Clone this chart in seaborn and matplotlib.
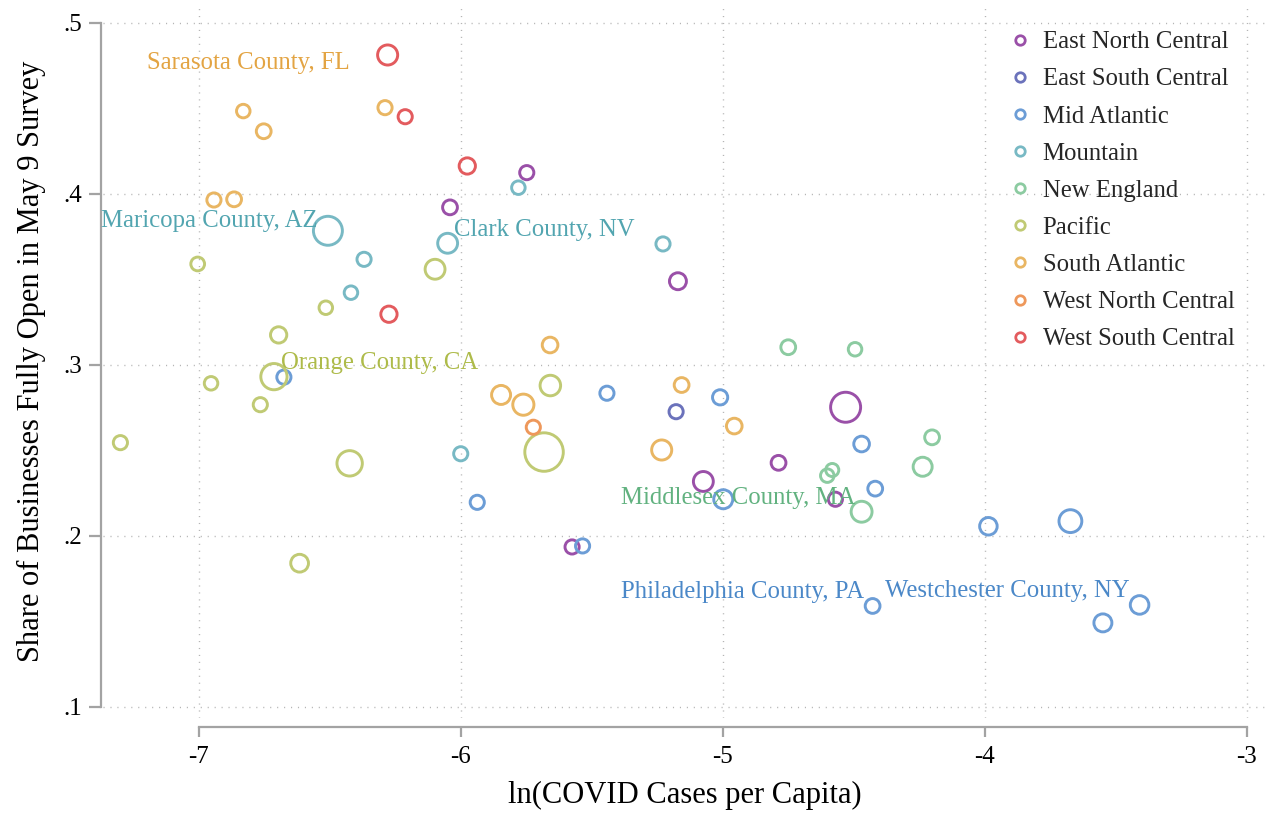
import matplotlib
matplotlib.use("Agg")
import matplotlib.pyplot as plt
from matplotlib.lines import Line2D
import pandas as pd
import seaborn as sns

# ---- data -------------------------------------------------------------
regions = [
    "East North Central", "East South Central", "Mid Atlantic", "Mountain",
    "New England", "Pacific", "South Atlantic", "West North Central",
    "West South Central",
]

region = (
    ["East North Central"] * 8
    + ["East South Central"] * 1
    + ["Mid Atlantic"] * 13
    + ["Mountain"] * 7
    + ["New England"] * 7
    + ["Pacific"] * 12
    + ["South Atlantic"] * 11
    + ["West North Central"] * 1
    + ["West South Central"] * 4
)

ln_cases = [
    # East North Central
    -5.749, -6.042, -5.172, -4.532, -4.788, -5.075, -4.571, -5.576,
    # East South Central
    -5.179,
    # Mid Atlantic
    -6.676, -5.443, -5.011, -5.938, -4.471, -4.419, -4.999, -5.536,
    -3.987, -3.674, -4.429, -3.410, -3.550,
    # Mountain
    -5.781, -6.508, -6.051, -6.370, -5.229, -6.420, -6.001,
    # New England
    -4.751, -4.496, -4.202, -4.238, -4.583, -4.602, -4.471,
    # Pacific
    -7.005, -6.099, -6.516, -6.696, -6.714, -6.954, -6.766, -7.300,
    -6.425, -5.659, -5.683, -6.616,
    # South Atlantic
    -6.831, -6.753, -6.290, -6.943, -6.866, -5.660, -5.847, -5.762,
    -5.158, -4.957, -5.234,
    # West North Central
    -5.724,
    # West South Central
    -6.280, -6.213, -5.976, -6.275,
]

share_open = [
    # East North Central
    0.4122, 0.3919, 0.3487, 0.2750, 0.2425, 0.2316, 0.2212, 0.1933,
    # East South Central
    0.2724,
    # Mid Atlantic
    0.2926, 0.2832, 0.2808, 0.2194, 0.2535, 0.2274, 0.2212, 0.1939,
    0.2054, 0.2084, 0.1588, 0.1594, 0.1489,
    # Mountain
    0.4034, 0.3782, 0.3709, 0.3615, 0.3705, 0.3420, 0.2478,
    # New England
    0.3101, 0.3089, 0.2574, 0.2402, 0.2383, 0.2350, 0.2139,
    # Pacific
    0.3588, 0.3557, 0.3332, 0.3173, 0.2929, 0.2890, 0.2765, 0.2543,
    0.2422, 0.2877, 0.2488, 0.1838,
    # South Atlantic
    0.4482, 0.4364, 0.4502, 0.3962, 0.3966, 0.3114, 0.2822, 0.2765,
    0.2880, 0.2640, 0.2500,
    # West North Central
    0.2633,
    # West South Central
    0.4810, 0.4449, 0.4161, 0.3294,
]

# county population, millions (marker area is proportional to it)
population_m = [
    # East North Central
    1.00, 1.09, 1.43, 4.49, 1.09, 1.97, 1.00, 1.00,
    # East South Central
    1.00,
    # Mid Atlantic
    1.00, 1.00, 1.15, 1.00, 1.22, 1.09, 1.80, 1.00,
    1.53, 2.60, 1.09, 1.72, 1.61,
    # Mountain
    0.91, 4.18, 1.97, 1.00, 1.00, 0.91, 1.00,
    # New England
    1.09, 0.91, 1.09, 1.80, 0.85, 0.91, 2.18,
    # Pacific
    0.94, 1.97, 0.91, 1.32, 3.43, 0.91, 1.00, 1.00,
    3.21, 2.10, 7.38, 1.57,
    # South Atlantic
    0.91, 1.09, 1.00, 1.00, 1.09, 1.22, 1.80, 2.23,
    1.09, 1.22, 2.01,
    # West North Central
    1.00,
    # West South Central
    2.01, 1.00, 1.32, 1.32,
]

labels = [
    "Sarasota County, FL", "Maricopa County, AZ", "Clark County, NV",
    "Orange County, CA", "Middlesex County, MA", "Philadelphia County, PA",
    "Westchester County, NY",
]
label_x = [-7.198, -7.374, -6.026, -6.688, -5.390, -5.390, -4.382]
label_y = [0.4763, 0.3839, 0.3788, 0.3008, 0.2219, 0.1671, 0.1676]
label_region = [
    "South Atlantic", "Mountain", "Mountain", "Pacific", "New England",
    "Mid Atlantic", "Mid Atlantic",
]

x_ticks = [-7, -6, -5, -4, -3]
y_ticks = [0.1, 0.2, 0.3, 0.4, 0.5]
y_tick_labels = [".1", ".2", ".3", ".4", ".5"]

# ---- styling ----------------------------------------------------------
marker_colors = {
    "East North Central": "#9a50a8",
    "East South Central": "#6b72bb",
    "Mid Atlantic": "#6c9dd6",
    "Mountain": "#78b9c4",
    "New England": "#8ccba1",
    "Pacific": "#c0ca74",
    "South Atlantic": "#e9b663",
    "West North Central": "#ee985b",
    "West South Central": "#e35b5e",
}
text_colors = {
    "South Atlantic": "#e3a443",
    "Mountain": "#52a5b0",
    "Pacific": "#aebb4a",
    "New England": "#62b280",
    "Mid Atlantic": "#4b88c8",
}

sns.set_theme(style="white")
plt.rcParams["font.family"] = ["Liberation Serif", "DejaVu Serif"]

W, H = 1266, 815
fig = plt.figure(figsize=(W / 100, H / 100), dpi=100)
ax_l, ax_r, ax_t, ax_b = 103, 1266, 5, 718
ax = fig.add_axes([ax_l / W, 1 - ax_b / H, (ax_r - ax_l) / W, (ax_b - ax_t) / H])

df = pd.DataFrame({
    "region": region,
    "ln_cases": ln_cases,
    "share_open": share_open,
    "population": population_m,
})

sns.scatterplot(
    data=df, x="ln_cases", y="share_open", hue="region", hue_order=regions,
    palette=marker_colors, size="population", sizes=(0, 104 * 8),
    size_norm=(0, 8), legend=False, linewidth=2.1, ax=ax, zorder=3,
)
coll = ax.collections[0]
coll.set_edgecolors(coll.get_facecolors())
coll.set_facecolors("none")

for txt, tx, ty, rg in zip(labels, label_x, label_y, label_region):
    ax.text(tx, ty, txt, color=text_colors[rg], fontsize=17.8,
            ha="left", va="center", zorder=4)

# axes ranges: -7 sits at px 199, -3 at 1247; .5 at 22.5, .1 at 706.5
px_per_x = (1247 - 199) / 4
px_per_y = (706.5 - 22.5) / 0.4
ax.set_xlim(-7 - (199 - ax_l) / px_per_x, -3 + (ax_r - 1247) / px_per_x)
ax.set_ylim(0.1 - (ax_b - 706.5) / px_per_y, 0.5 + (22.5 - ax_t) / px_per_y)

ax.set_xticks(x_ticks)
ax.set_xticklabels([str(v) for v in x_ticks])
ax.set_yticks(y_ticks)
ax.set_yticklabels(y_tick_labels)

ax.grid(True, color="#b5b5b5", linestyle=(0, (0.8, 4.2)), linewidth=1.0)
ax.set_axisbelow(True)

spine_color = "#a3a3a3"
for side in ["top", "right"]:
    ax.spines[side].set_visible(False)
ax.spines["left"].set_position(("outward", 1.5))
ax.spines["left"].set_bounds(0.1, 0.5)
ax.spines["bottom"].set_position(("outward", 6.3))
ax.spines["bottom"].set_bounds(-7, -3)
for side in ["left", "bottom"]:
    ax.spines[side].set_color(spine_color)
    ax.spines[side].set_linewidth(1.6)

ax.tick_params(axis="y", direction="out", length=8.5, width=1.6,
               color=spine_color, pad=5, labelsize=18, labelcolor="black",
               left=True)
ax.tick_params(axis="x", direction="out", length=7.5, width=1.6,
               color=spine_color, pad=6.5, labelsize=18, labelcolor="black",
               bottom=True)

ax.set_xlabel("ln(COVID Cases per Capita)", fontsize=22, color="black")
ax.set_ylabel("Share of Businesses Fully Open in May 9 Survey",
              fontsize=22, color="black")
ax.xaxis.set_label_coords(0.5, -(781 - ax_b) / (ax_b - ax_t))
ax.yaxis.set_label_coords(-(ax_l - 46) / (ax_r - ax_l), 0.5)

handles = [
    Line2D([0], [0], marker="o", linestyle="none", markersize=6.8,
           markerfacecolor="none", markeredgecolor=marker_colors[r],
           markeredgewidth=2.0, label=r)
    for r in regions
]
ax.legend(handles=handles, loc="upper left",
          bbox_to_anchor=(1008 / W, 1 - 31 / H), bbox_transform=fig.transFigure,
          frameon=False, fontsize=17.8, handlelength=1.0, handletextpad=0.4,
          labelspacing=0.6, borderpad=0, borderaxespad=0)

fig.savefig("out.png", dpi=100)
